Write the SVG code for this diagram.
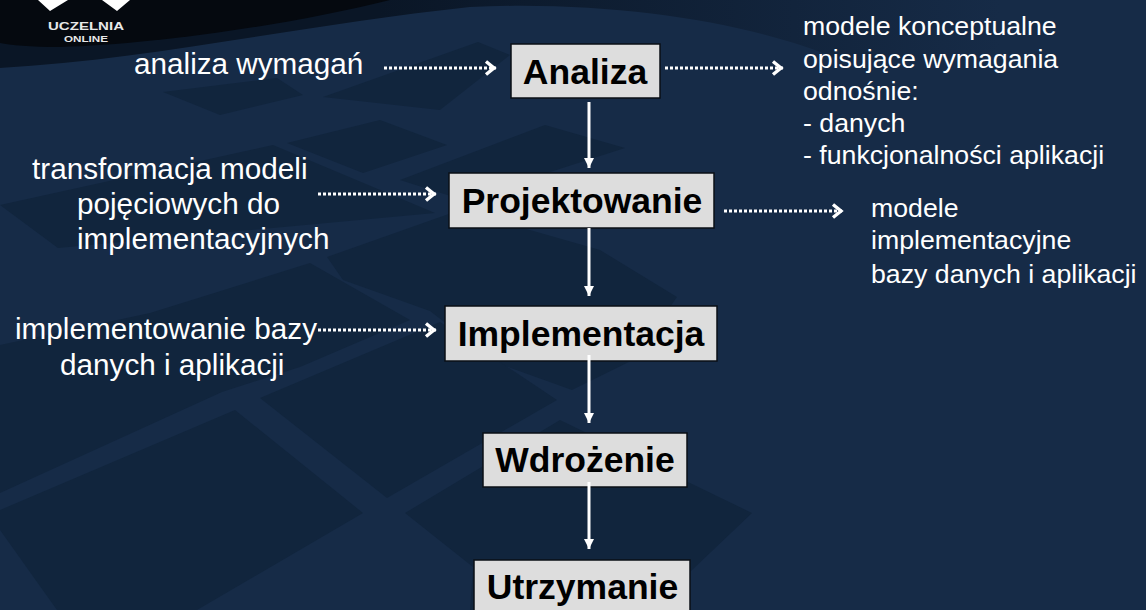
<svg xmlns="http://www.w3.org/2000/svg" width="1146" height="610" viewBox="0 0 1146 610">
<defs>
<marker id="tip" markerUnits="userSpaceOnUse" markerWidth="12" markerHeight="12" refX="10" refY="6" orient="auto"><path d="M0 1L10 6L0 11Z" fill="#fff"/></marker>
<marker id="open" markerUnits="userSpaceOnUse" markerWidth="16" markerHeight="18" refX="14" refY="9" orient="auto"><path d="M4 2.5L12 9L4 15.5" fill="none" stroke="#fff" stroke-width="3.4"/></marker>
<linearGradient id="top" gradientUnits="userSpaceOnUse" x1="380" y1="0" x2="1000" y2="0"><stop offset="0" stop-color="#0a1626"/><stop offset="1" stop-color="#162b47"/></linearGradient>
</defs>
<style>
.box{fill:#dddddd;stroke:#0a0f16;stroke-width:1.5}
.nl{font:bold 35.5px "Liberation Sans",Arial,sans-serif;fill:#000;text-anchor:middle}
.t{font:29.7px "Liberation Sans",Arial,sans-serif;fill:#fff}
.s{font:26.7px "Liberation Sans",Arial,sans-serif;fill:#fff}
.so{stroke:#fff;stroke-width:3;fill:none;marker-end:url(#tip)}
.do{stroke:#fff;stroke-width:3;fill:none;stroke-dasharray:3 2;marker-end:url(#open)}
.lg{fill:#fff}
.lt{font-family:"Liberation Sans",Arial,sans-serif;font-weight:bold;fill:#e8e8e8}
</style>
<rect width="1146" height="610" fill="#162b47"/>
<g fill="#11253d">
<path d="M163 92L277 78L303 95L220 115Z"/>
<path d="M323 97L478 42L510 55L440 110Z"/>
<path d="M287 143L380 120L447 145L363 173Z"/>
<path d="M400 180L545 125L625 148L463 200Z"/>
<path d="M0 205L273 145L435 213L58 248Z"/>
<path d="M327 257L460 210L600 250L677 297L633 360L572 390L497 363L430 311L343 280Z"/>
<path d="M0 345L150 313L310 263L410 320L300 367L222 392L0 493Z"/>
<path d="M260 398L440 322L557 400L387 498Z"/>
<path d="M235 410L363 513L197 610L57 610L0 530L0 510Z"/>
<path d="M405 513L560 420L752 513L650 610L470 610L473 567Z"/>
</g>
<path d="M0 0H1146V60H840C760 25 620 0 470 7C300 25 150 60 0 68Z" fill="url(#top)"/>
<path d="M0 0H390C290 25 150 45 60 47C30 47 10 45 0 43Z" fill="#05090f"/>
<g id="logo" class="lg">
<path d="M38 0L50 11L68 0ZM102 0L117 11L130 0Z"/>
<text class="lt" x="48" y="30" font-size="11" textLength="76" lengthAdjust="spacingAndGlyphs">UCZELNIA</text>
<text class="lt" x="64" y="42" font-size="9" textLength="44" lengthAdjust="spacingAndGlyphs">ONLINE</text>
</g>
<g id="n-analiza"><rect class="box" x="511" y="44" width="149" height="54"/><text class="nl" x="585" y="84">Analiza</text></g>
<g id="n-projektowanie"><rect class="box" x="449" y="173" width="265" height="55"/><text class="nl" x="582" y="213">Projektowanie</text></g>
<g id="n-implementacja"><rect class="box" x="445" y="306" width="272" height="55"/><text class="nl" x="581" y="346">Implementacja</text></g>
<g id="n-wdrozenie"><rect class="box" x="483" y="433" width="204" height="54"/><text class="nl" x="585" y="472">Wdrożenie</text></g>
<g id="n-utrzymanie"><rect class="box" x="474" y="560" width="216" height="54"/><text class="nl" x="582.500" y="599">Utrzymanie</text></g>
<g id="connectors">
<path class="so" d="M589 102V168"/><path class="so" d="M589 228V296"/><path class="so" d="M589 355V423"/><path class="so" d="M589 482V549"/>
<path class="do" d="M384 68H496"/><path class="do" d="M665 68H783"/><path class="do" d="M318 194H436"/><path class="do" d="M724 211H843"/><path class="do" d="M318 330H436"/>
</g>
<g id="l-analiza"><text class="t" x="134" y="74">analiza wymagań</text></g>
<g id="l-transformacja"><text class="t" x="32" y="179">transformacja modeli</text><text class="t" x="77" y="214">pojęciowych do</text><text class="t" x="77" y="249">implementacyjnych</text></g>
<g id="l-implementowanie"><text class="t" x="15" y="339">implementowanie bazy</text><text class="t" x="60" y="375">danych i aplikacji</text></g>
<g id="l-modele"><text class="s" x="803" y="35">modele konceptualne</text><text class="s" x="803" y="68">opisujące wymagania</text><text class="s" x="803" y="100">odnośnie:</text><text class="s" x="803" y="132">- danych</text><text class="s" x="803" y="164">- funkcjonalności aplikacji</text></g>
<g id="l-impl"><text class="s" x="871" y="217">modele</text><text class="s" x="871" y="249">implementacyjne</text><text class="s" x="871" y="283">bazy danych i aplikacji</text></g>
</svg>
